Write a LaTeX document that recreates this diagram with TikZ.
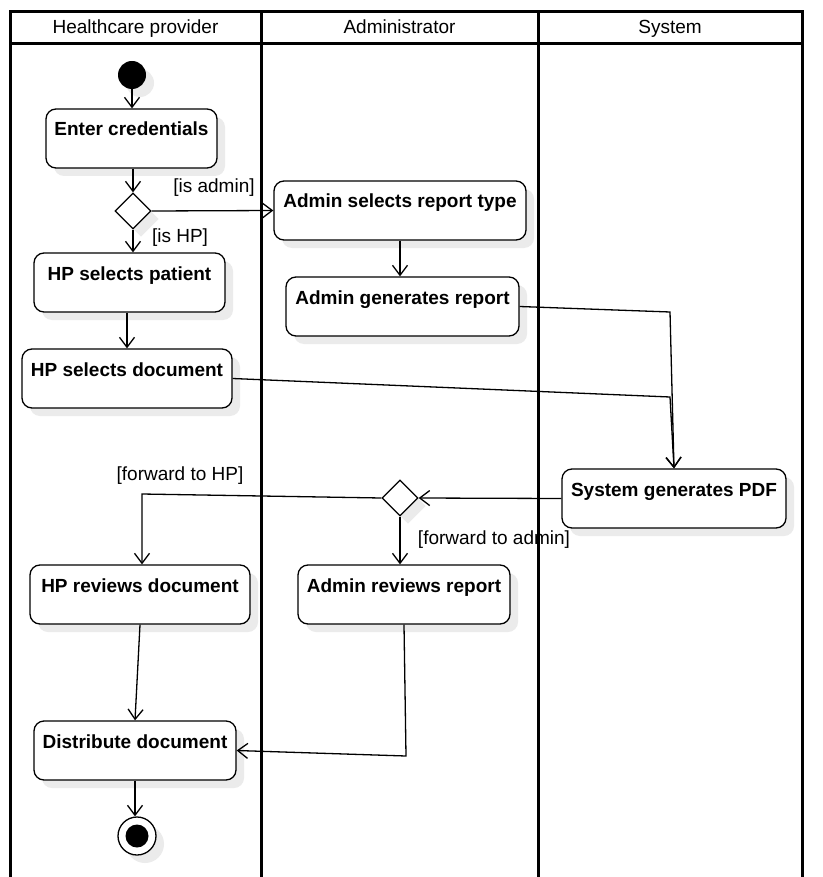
\documentclass[tikz,border=0pt]{standalone}
\usepackage{fontspec}
\setmainfont{Liberation Sans}
\usetikzlibrary{arrows.meta,shapes.geometric,shadows}
\tikzset{
  shd/.style={drop shadow={shadow xshift=8pt,shadow yshift=-8pt,fill=black!8,opacity=1}},
  lane/.style={line width=3pt},
  act/.style={draw, rounded corners=10pt, line width=1.3pt, fill=white, shd,
    font=\bfseries\fontsize{19}{22}\selectfont, text height=15pt, text depth=20pt,
    inner ysep=12pt, inner xsep=0pt},
  decision/.style={diamond, draw, fill=white, line width=1.3pt, minimum width=36pt, minimum height=36pt, inner sep=0pt, shd},
  flow/.style={line width=1.3pt, -{Straight Barb[length=10pt,width=15pt,line width=1.3pt]}},
  lbl/.style={font=\fontsize{19}{22}\selectfont, inner sep=0pt},
  hdr/.style={font=\fontsize{19}{22}\selectfont, inner sep=0pt, anchor=base}
}
\begin{document}
\begin{tikzpicture}[x=1pt,y=-1pt]
\useasboundingbox (0,0) rectangle (822,877);
\fill[white] (0,0) rectangle (822,877);
% lanes
\draw[lane] (10,877) -- (10,12) -- (802,12) -- (802,877);
\draw[lane] (10,44) -- (802,44);
\draw[lane] (261,12) -- (261,877);
\draw[lane] (538,12) -- (538,877);
\node[hdr] (h1) at (135.5,33.5) {Healthcare provider};
\node[hdr] (h2) at (399.5,33.5) {Administrator};
\node[hdr] (h3) at (670,33.5) {System};
% nodes
\node[circle, fill=black, minimum size=28pt, inner sep=0pt, shd] (start) at (132,75) {};
\node[act, minimum width=171pt, minimum height=59pt] (ec) at (131.5,138.5) {Enter credentials};
\node[decision] (d1) at (133,211) {};
\node[act, minimum width=252pt, minimum height=59pt] (ast) at (400,210.5) {Admin selects report type};
\node[act, minimum width=191pt, minimum height=59pt] (hsp) at (129.5,282.5) {HP selects patient};
\node[act, minimum width=233pt, minimum height=59pt] (agr) at (402.5,306.5) {Admin generates report};
\node[act, minimum width=210pt, minimum height=59pt] (hsd) at (127,378.5) {HP selects document};
\node[act, minimum width=224pt, minimum height=59pt] (pdf) at (674,498.5) {System generates PDF};
\node[decision] (d2) at (400,498) {};
\node[act, minimum width=220pt, minimum height=59pt] (hrd) at (140,594.5) {HP reviews document};
\node[act, minimum width=212pt, minimum height=59pt] (arr) at (404,594.5) {Admin reviews report};
\node[act, minimum width=202pt, minimum height=59pt] (dist) at (135,750.5) {Distribute document};
\node[circle, draw, line width=1.3pt, fill=white, minimum size=38pt, inner sep=0pt, shd] (end) at (137,836) {};
\fill (end.center) circle (11.5pt);
% coordinates
\coordinate (j1) at (670,312);
\coordinate (j2) at (670,397);
\coordinate (j3) at (142,494);
\coordinate (j4) at (406,756);
% edges
\draw[flow] (start) -- (start.south |- ec.north);
\draw[flow] (ec.south -| d1.north) -- (d1.north);
\draw[flow] (d1.east) -- (ast.west);
\draw[flow] (d1.south) -- (d1.south |- hsp.north);
\draw[flow] (hsp.south -| 127,0) -- (hsd.north);
\draw[flow] (ast.south) -- (ast.south |- agr.north);
\draw[flow] (agr.east) -- (j1) -- (pdf.north);
\draw[flow] (hsd.east) -- (j2) -- (pdf.north);
\draw[flow] (pdf.west) -- (d2.east);
\draw[flow] (d2.west) -- (j3) -- (j3 |- hrd.north);
\draw[flow] (d2.south) -- (d2.south |- arr.north);
\draw[flow] (hrd.south) -- (dist.north);
\draw[flow] (arr.south) -- (j4) -- (dist.east);
\draw[flow] (dist.south) -- (dist.south |- end.north);
% labels
\node[lbl] (l1) at (214,188) {[is admin]};
\node[lbl] (l2) at (180,238) {[is HP]};
\node[lbl] (l3) at (180,476) {[forward to HP]};
\node[lbl] (l4) at (494,540) {[forward to admin]};
\end{tikzpicture}
\end{document}
